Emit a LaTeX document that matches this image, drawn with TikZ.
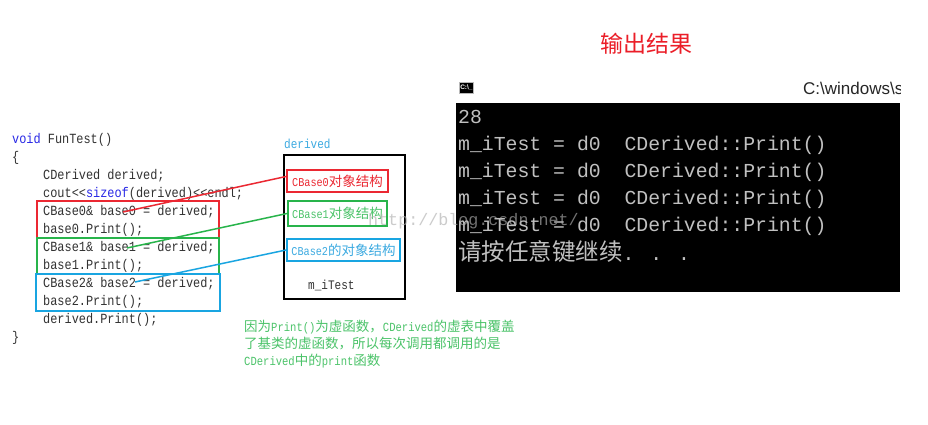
\documentclass[tikz,border=0pt]{standalone}
\usepackage{fontspec}
\setmainfont{Liberation Sans}
\newfontfamily\codef[FakeStretch=0.85]{Liberation Mono}
\newfontfamily\conf{Liberation Mono}
\newfontfamily\cjk{Noto Sans CJK SC}
\newfontfamily\sansf{Liberation Sans}
\definecolor{cred}{RGB}{235,40,50}
\definecolor{cgreen}{RGB}{40,180,75}
\definecolor{cblue}{RGB}{25,165,225}
\definecolor{notegreen}{RGB}{75,195,105}
\definecolor{kwblue}{RGB}{40,40,230}
\definecolor{contxt}{RGB}{192,192,192}
\definecolor{codetxt}{RGB}{50,50,50}
\definecolor{titlered}{RGB}{235,30,40}
\definecolor{lblblue}{RGB}{60,170,225}
\newcommand\objt[2]{{\codef\fontsize{12}{14}\selectfont #1}{\cjk\fontsize{13.5}{15}\selectfont #2}}
\newcommand\ntl[1]{{\codef\fontsize{12.4}{14}\selectfont #1}}
\newcommand\ntc[1]{{\cjk\fontsize{13.5}{15}\selectfont #1}}
\begin{document}
\begin{tikzpicture}[x=1pt,y=-1pt,
  code/.style={anchor=west, inner sep=0pt, text height=9.5pt, text depth=0pt, font=\codef\fontsize{14}{16}\selectfont, text=codetxt},
  con/.style={anchor=west, inner sep=0pt, text height=13pt, text depth=0pt, font=\conf\fontsize{19.8}{24}\selectfont, text=contxt},
  hlbox/.style={draw=#1, line width=2pt, inner sep=0pt},
  objbox/.style={draw=#1, line width=2pt, text=#1, inner sep=0pt},
  link/.style={draw=#1, line width=1.5pt},
  note/.style={anchor=west, inner sep=0pt, text=notegreen}
]
\path[use as bounding box] (0,0) rectangle (928,425);
\fill[white] (0,0) rectangle (928,425);

% code listing
\node[code] (c1) at (12,139) {\textcolor{kwblue}{void} FunTest()};
\node[code] (c2) at (12,157) {\{};
\node[code] (c3) at (43,175) {CDerived derived;};
\node[code] (c4) at (43,193) {cout<<\textcolor{kwblue}{sizeof}(derived)<<endl;};
\node[code] (c5) at (43,211) {CBase0\& base0 = derived;};
\node[code] (c6) at (43,229) {base0.Print();};
\node[code] (c7) at (43,247) {CBase1\& base1 = derived;};
\node[code] (c8) at (43,265) {base1.Print();};
\node[code] (c9) at (43,283) {CBase2\& base2 = derived;};
\node[code] (c10) at (43,301) {base2.Print();};
\node[code] (c11) at (43,319) {derived.Print();};
\node[code] (c12) at (12,337) {\}};

% highlight boxes on code
\node[hlbox=cred, minimum width=182pt, minimum height=37pt] (h0) at (128,219.5) {};
\node[hlbox=cgreen, minimum width=182pt, minimum height=36pt] (h1) at (128,256) {};
\node[hlbox=cblue, minimum width=184pt, minimum height=37pt] (h2) at (128,292.5) {};

% derived object
\node[anchor=west, inner sep=0pt, text=lblblue, font=\codef\fontsize{13}{15}\selectfont] (dlbl) at (284,144) {derived};
\node[draw=black, line width=2pt, minimum width=121pt, minimum height=144pt, inner sep=0pt] (dbox) at (344.5,227) {};
\node[objbox=cred, minimum width=101pt, minimum height=22pt] (b0) at (337.5,181) {\objt{CBase0}{对象结构}};
\node[objbox=cgreen, minimum width=99pt, minimum height=25pt, text=notegreen] (b1) at (337.5,213.5) {\objt{CBase1}{对象结构}};
\node[objbox=cblue, minimum width=113pt, minimum height=22pt, text=lblblue] (b2) at (343.5,250) {\objt{CBase2}{的对象结构}};
\node[anchor=west, inner sep=0pt, text=codetxt, font=\codef\fontsize{13}{15}\selectfont] (mtest) at (308,285) {m\_iTest};

% connectors
\coordinate (s0) at (123,212);
\coordinate (s1) at (127,248);
\coordinate (s2) at (135,282);
\draw[link=cred] (s0) -- (b0.175);
\draw[link=cgreen] (s1) -- (b1.west);
\draw[link=cblue] (s2) -- (b2.west);

% note
\node[note] (n1) at (244,327) {\ntc{因为}\ntl{Print()}\ntc{为虚函数，}\ntl{CDerived}\ntc{的虚表中覆盖}};
\node[note] (n2) at (244,344) {\ntc{了基类的虚函数，所以每次调用都调用的是}};
\node[note] (n3) at (244,361) {\ntl{CDerived}\ntc{中的}\ntl{print}\ntc{函数}};

% output title
\node[text=titlered, font=\cjk\fontsize{23}{26}\selectfont, inner sep=0pt] (otitle) at (646,44) {输出结果};

% console window
\node[fill=black, minimum width=444pt, minimum height=189pt, inner sep=0pt, anchor=north west] (console) at (456,103) {};
\node[fill=black, draw=gray!55, line width=0.8pt, minimum width=14pt, minimum height=11pt, inner sep=0pt, anchor=north west, text=white, font=\sansf\bfseries\fontsize{6.5}{6.5}\selectfont] (icon) at (459,82) {C:\textbackslash\_};
\begin{scope}
\clip (456,75) rectangle (900,103);
\node[anchor=west, inner sep=0pt, font=\sansf\fontsize{17}{19}\selectfont, text=black!85] (wtitle) at (803,88) {C:\textbackslash windows\textbackslash s};
\end{scope}
\node[con] (o1) at (458,117) {28};
\node[con] (o2) at (458,144) {m\_iTest = d0 ~CDerived::Print()};
\node[con] (o3) at (458,171) {m\_iTest = d0 ~CDerived::Print()};
\node[con] (o4) at (458,198) {m\_iTest = d0 ~CDerived::Print()};
\node[con] (o5) at (458,225) {m\_iTest = d0 ~CDerived::Print()};
\node[con] (o6) at (458,254) {{\cjk\fontsize{23.5}{26}\selectfont 请按任意键继续}. . .};

% watermark
\node[anchor=west, inner sep=0pt, text=black!31, opacity=0.65, font=\conf\fontsize{16.7}{18}\selectfont] (wm) at (368,221) {http://blog.csdn.net/};
\end{tikzpicture}
\end{document}
